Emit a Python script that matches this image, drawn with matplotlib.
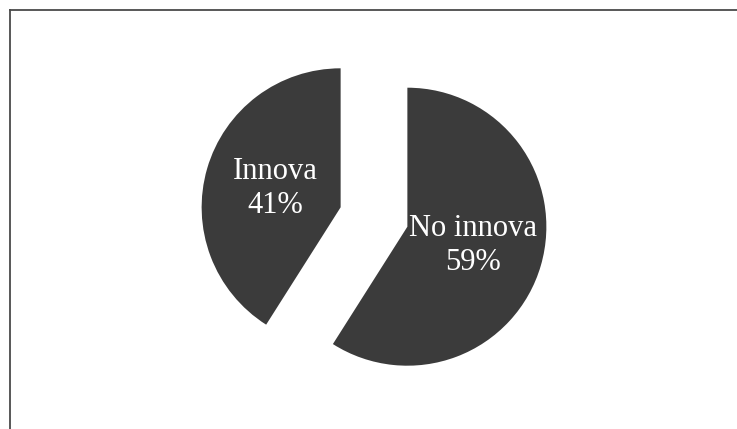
import matplotlib
matplotlib.use("Agg")
import matplotlib.pyplot as plt
from matplotlib.lines import Line2D

labels = ["No innova", "Innova"]
shares = [59, 41]

W, H = 737, 429
fig = plt.figure(figsize=(W / 100, H / 100), dpi=100)
ax = fig.add_axes([0, 0, 1, 1])

wedges, texts = ax.pie(
    shares,
    labels=[f"{l}\n{s}%" for l, s in zip(labels, shares)],
    startangle=90,
    counterclock=False,
    explode=[0.25, 0.25],
    colors=["#3b3b3b", "#3b3b3b"],
    labeldistance=0.49,
    textprops=dict(color="white", fontsize=22, family="Liberation Serif"),
)
for t in texts:
    t.set_ha("center")
    t.set_va("center")
    t.set_multialignment("center")
    t.set_linespacing(1.25)

# map 139 px to one radius, pie centre at (374, 217) px
r = 139.0
cx, cy = 374.0, 217.0
ax.set_xlim(-cx / r, (W - cx) / r)
ax.set_ylim(-(H - cy) / r, cy / r)
ax.set_aspect("auto")
ax.axis("off")

# frame: only top and left edges visible
fig.add_artist(Line2D([10 / W, 1], [1 - 10 / H, 1 - 10 / H], color="#4a4a4a", lw=1.3))
fig.add_artist(Line2D([10 / W, 10 / W], [0, 1 - 10 / H], color="#4a4a4a", lw=1.3))

fig.savefig("out.png", dpi=100)
